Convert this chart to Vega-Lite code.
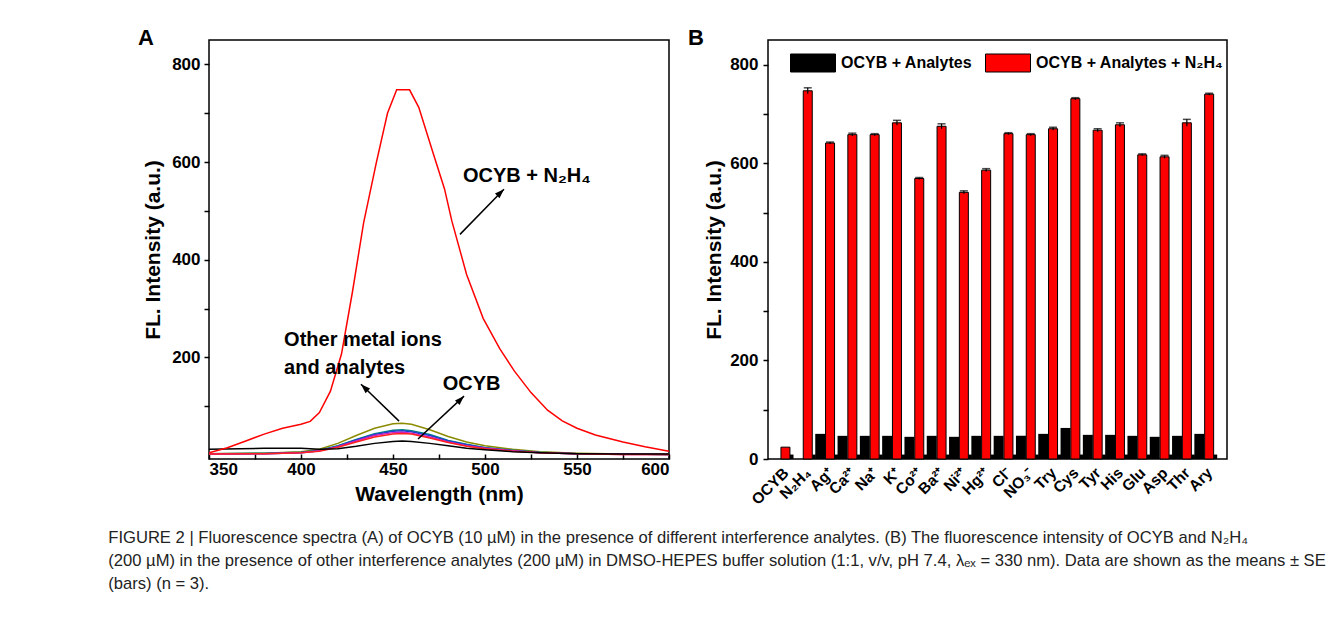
{
  "$schema": "https://vega.github.io/schema/vega-lite/v6.json",
  "background": "white",
  "padding": {"left": 108, "top": 26, "right": 0, "bottom": 0},
  "config": {
    "font": "Liberation Sans",
    "view": {"stroke": "black", "strokeWidth": 1.5},
    "axis": {
      "domain": false, "grid": false,
      "labelFont": "Liberation Sans", "labelFontSize": 17, "labelFontWeight": "bold", "labelColor": "black",
      "titleFont": "Liberation Sans", "titleFontSize": 21, "titleFontWeight": "bold", "titleColor": "black",
      "tickColor": "black", "tickWidth": 1.5, "tickSize": 5
    }
  },
  "title": {
    "text": [
      "FIGURE 2 | Fluorescence spectra (A) of OCYB (10 µM) in the presence of different interference analytes. (B) The fluorescence intensity of OCYB and N₂H₄",
      "(200 µM) in the presence of other interference analytes (200 µM) in DMSO-HEPES buffer solution (1:1, v/v, pH 7.4, λₑₓ = 330 nm). Data are shown as the means ± SE",
      "(bars) (n = 3)."
    ],
    "orient": "bottom", "anchor": "start", "frame": "bounds",
    "font": "Liberation Sans", "fontSize": 16.6, "fontWeight": "normal", "color": "#222222",
    "lineHeight": 23, "offset": 22, "dx": -29
  },
  "resolve": {"scale": {"color": "independent"}, "legend": {"color": "independent"}},
  "datasets": {
    "spectra": [
      {"s": "OCYB + N2H4", "wl": 350, "v": 5}, {"s": "OCYB + N2H4", "wl": 360, "v": 15}, {"s": "OCYB + N2H4", "wl": 370, "v": 29},
      {"s": "OCYB + N2H4", "wl": 380, "v": 43}, {"s": "OCYB + N2H4", "wl": 390, "v": 55}, {"s": "OCYB + N2H4", "wl": 400, "v": 63},
      {"s": "OCYB + N2H4", "wl": 405, "v": 69}, {"s": "OCYB + N2H4", "wl": 410, "v": 87}, {"s": "OCYB + N2H4", "wl": 416, "v": 131},
      {"s": "OCYB + N2H4", "wl": 422, "v": 207}, {"s": "OCYB + N2H4", "wl": 428, "v": 335}, {"s": "OCYB + N2H4", "wl": 434, "v": 475},
      {"s": "OCYB + N2H4", "wl": 441, "v": 600}, {"s": "OCYB + N2H4", "wl": 447, "v": 700}, {"s": "OCYB + N2H4", "wl": 452, "v": 748},
      {"s": "OCYB + N2H4", "wl": 459, "v": 748}, {"s": "OCYB + N2H4", "wl": 464, "v": 712}, {"s": "OCYB + N2H4", "wl": 472, "v": 616},
      {"s": "OCYB + N2H4", "wl": 478, "v": 545}, {"s": "OCYB + N2H4", "wl": 482, "v": 479}, {"s": "OCYB + N2H4", "wl": 490, "v": 370},
      {"s": "OCYB + N2H4", "wl": 499, "v": 280}, {"s": "OCYB + N2H4", "wl": 508, "v": 218}, {"s": "OCYB + N2H4", "wl": 516, "v": 172},
      {"s": "OCYB + N2H4", "wl": 525, "v": 128}, {"s": "OCYB + N2H4", "wl": 534, "v": 92}, {"s": "OCYB + N2H4", "wl": 542, "v": 70},
      {"s": "OCYB + N2H4", "wl": 550, "v": 55}, {"s": "OCYB + N2H4", "wl": 560, "v": 41}, {"s": "OCYB + N2H4", "wl": 575, "v": 27},
      {"s": "OCYB + N2H4", "wl": 587, "v": 17}, {"s": "OCYB + N2H4", "wl": 600, "v": 8},

      {"s": "Olive", "wl": 350, "v": 3}, {"s": "Olive", "wl": 380, "v": 4}, {"s": "Olive", "wl": 400, "v": 7}, {"s": "Olive", "wl": 410, "v": 12},
      {"s": "Olive", "wl": 420, "v": 24}, {"s": "Olive", "wl": 430, "v": 40}, {"s": "Olive", "wl": 440, "v": 55}, {"s": "Olive", "wl": 450, "v": 64},
      {"s": "Olive", "wl": 455, "v": 65}, {"s": "Olive", "wl": 460, "v": 63}, {"s": "Olive", "wl": 470, "v": 52}, {"s": "Olive", "wl": 480, "v": 38},
      {"s": "Olive", "wl": 490, "v": 27}, {"s": "Olive", "wl": 500, "v": 19}, {"s": "Olive", "wl": 515, "v": 12}, {"s": "Olive", "wl": 530, "v": 7},
      {"s": "Olive", "wl": 550, "v": 4}, {"s": "Olive", "wl": 575, "v": 2}, {"s": "Olive", "wl": 600, "v": 1},

      {"s": "Teal", "wl": 350, "v": 3}, {"s": "Teal", "wl": 380, "v": 4}, {"s": "Teal", "wl": 400, "v": 6}, {"s": "Teal", "wl": 410, "v": 10},
      {"s": "Teal", "wl": 420, "v": 19}, {"s": "Teal", "wl": 430, "v": 32}, {"s": "Teal", "wl": 440, "v": 44}, {"s": "Teal", "wl": 450, "v": 51},
      {"s": "Teal", "wl": 455, "v": 52}, {"s": "Teal", "wl": 460, "v": 50}, {"s": "Teal", "wl": 470, "v": 42}, {"s": "Teal", "wl": 480, "v": 30},
      {"s": "Teal", "wl": 490, "v": 22}, {"s": "Teal", "wl": 500, "v": 15}, {"s": "Teal", "wl": 515, "v": 10}, {"s": "Teal", "wl": 530, "v": 6},
      {"s": "Teal", "wl": 550, "v": 3}, {"s": "Teal", "wl": 575, "v": 2}, {"s": "Teal", "wl": 600, "v": 1},

      {"s": "Blue", "wl": 350, "v": 2}, {"s": "Blue", "wl": 380, "v": 3}, {"s": "Blue", "wl": 400, "v": 5}, {"s": "Blue", "wl": 410, "v": 9},
      {"s": "Blue", "wl": 420, "v": 18}, {"s": "Blue", "wl": 430, "v": 31}, {"s": "Blue", "wl": 440, "v": 42}, {"s": "Blue", "wl": 450, "v": 49},
      {"s": "Blue", "wl": 455, "v": 50}, {"s": "Blue", "wl": 460, "v": 48}, {"s": "Blue", "wl": 470, "v": 40}, {"s": "Blue", "wl": 480, "v": 29},
      {"s": "Blue", "wl": 490, "v": 21}, {"s": "Blue", "wl": 500, "v": 15}, {"s": "Blue", "wl": 515, "v": 9}, {"s": "Blue", "wl": 530, "v": 5},
      {"s": "Blue", "wl": 550, "v": 3}, {"s": "Blue", "wl": 575, "v": 2}, {"s": "Blue", "wl": 600, "v": 1},

      {"s": "Magenta", "wl": 350, "v": 2}, {"s": "Magenta", "wl": 380, "v": 3}, {"s": "Magenta", "wl": 400, "v": 5}, {"s": "Magenta", "wl": 410, "v": 9},
      {"s": "Magenta", "wl": 420, "v": 17}, {"s": "Magenta", "wl": 430, "v": 29}, {"s": "Magenta", "wl": 440, "v": 40}, {"s": "Magenta", "wl": 450, "v": 46},
      {"s": "Magenta", "wl": 455, "v": 47}, {"s": "Magenta", "wl": 460, "v": 45}, {"s": "Magenta", "wl": 470, "v": 37}, {"s": "Magenta", "wl": 480, "v": 27},
      {"s": "Magenta", "wl": 490, "v": 19}, {"s": "Magenta", "wl": 500, "v": 14}, {"s": "Magenta", "wl": 515, "v": 9}, {"s": "Magenta", "wl": 530, "v": 5},
      {"s": "Magenta", "wl": 550, "v": 3}, {"s": "Magenta", "wl": 575, "v": 1}, {"s": "Magenta", "wl": 600, "v": 1},

      {"s": "Red", "wl": 350, "v": 2}, {"s": "Red", "wl": 380, "v": 3}, {"s": "Red", "wl": 400, "v": 5}, {"s": "Red", "wl": 410, "v": 8},
      {"s": "Red", "wl": 420, "v": 16}, {"s": "Red", "wl": 430, "v": 27}, {"s": "Red", "wl": 440, "v": 37}, {"s": "Red", "wl": 450, "v": 43},
      {"s": "Red", "wl": 455, "v": 44}, {"s": "Red", "wl": 460, "v": 43}, {"s": "Red", "wl": 470, "v": 35}, {"s": "Red", "wl": 480, "v": 26},
      {"s": "Red", "wl": 490, "v": 18}, {"s": "Red", "wl": 500, "v": 13}, {"s": "Red", "wl": 515, "v": 8}, {"s": "Red", "wl": 530, "v": 5},
      {"s": "Red", "wl": 550, "v": 3}, {"s": "Red", "wl": 575, "v": 1}, {"s": "Red", "wl": 600, "v": 1},

      {"s": "OCYB", "wl": 350, "v": 12}, {"s": "OCYB", "wl": 380, "v": 14}, {"s": "OCYB", "wl": 400, "v": 14}, {"s": "OCYB", "wl": 410, "v": 12},
      {"s": "OCYB", "wl": 420, "v": 13}, {"s": "OCYB", "wl": 430, "v": 18}, {"s": "OCYB", "wl": 440, "v": 24}, {"s": "OCYB", "wl": 450, "v": 28},
      {"s": "OCYB", "wl": 455, "v": 29}, {"s": "OCYB", "wl": 460, "v": 28}, {"s": "OCYB", "wl": 470, "v": 24}, {"s": "OCYB", "wl": 480, "v": 19},
      {"s": "OCYB", "wl": 490, "v": 14}, {"s": "OCYB", "wl": 500, "v": 11}, {"s": "OCYB", "wl": 515, "v": 7}, {"s": "OCYB", "wl": 530, "v": 5},
      {"s": "OCYB", "wl": 550, "v": 3}, {"s": "OCYB", "wl": 575, "v": 2}, {"s": "OCYB", "wl": 600, "v": 2}
    ],
    "arrows": [
      {"n": "a1", "wl": 486.4, "v": 452, "wl2": 510.3, "v2": 544.5},
      {"n": "a2", "wl": 453.3, "v": 69.6, "wl2": 432.6, "v2": 145},
      {"n": "a3", "wl": 463.6, "v": 32.8, "wl2": 488.6, "v2": 120.8}
    ],
    "heads": [
      {"n": "a1", "wl": 510.3, "v": 544.5},
      {"n": "a2", "wl": 432.6, "v": 145},
      {"n": "a3", "wl": 488.6, "v": 120.8}
    ],
    "notes": [
      {"t": "OCYB + N₂H₄", "wl": 488, "v": 571},
      {"t": "Other metal ions", "wl": 390.8, "v": 235},
      {"t": "and analytes", "wl": 390.8, "v": 178},
      {"t": "OCYB", "wl": 477, "v": 145}
    ],
    "bars": [
      {"cat": "OCYB", "series": "OCYB + Analytes", "v": 0},
      {"cat": "N₂H₄", "series": "OCYB + Analytes", "v": 0},
      {"cat": "Ag⁺", "series": "OCYB + Analytes", "v": 51},
      {"cat": "Ca²⁺", "series": "OCYB + Analytes", "v": 47},
      {"cat": "Na⁺", "series": "OCYB + Analytes", "v": 47},
      {"cat": "K⁺", "series": "OCYB + Analytes", "v": 47},
      {"cat": "Co²⁺", "series": "OCYB + Analytes", "v": 45},
      {"cat": "Ba²⁺", "series": "OCYB + Analytes", "v": 47},
      {"cat": "Ni²⁺", "series": "OCYB + Analytes", "v": 45},
      {"cat": "Hg²⁺", "series": "OCYB + Analytes", "v": 47},
      {"cat": "Cl⁻", "series": "OCYB + Analytes", "v": 47},
      {"cat": "NO₃⁻", "series": "OCYB + Analytes", "v": 47},
      {"cat": "Try", "series": "OCYB + Analytes", "v": 51},
      {"cat": "Cys", "series": "OCYB + Analytes", "v": 63},
      {"cat": "Tyr", "series": "OCYB + Analytes", "v": 49},
      {"cat": "His", "series": "OCYB + Analytes", "v": 49},
      {"cat": "Glu", "series": "OCYB + Analytes", "v": 47},
      {"cat": "Asp", "series": "OCYB + Analytes", "v": 45},
      {"cat": "Thr", "series": "OCYB + Analytes", "v": 47},
      {"cat": "Ary", "series": "OCYB + Analytes", "v": 51},
      {"cat": "OCYB", "series": "OCYB + Analytes + N₂H₄", "v": 24},
      {"cat": "N₂H₄", "series": "OCYB + Analytes + N₂H₄", "v": 747, "lo": 741, "hi": 753},
      {"cat": "Ag⁺", "series": "OCYB + Analytes + N₂H₄", "v": 641, "lo": 639, "hi": 643},
      {"cat": "Ca²⁺", "series": "OCYB + Analytes + N₂H₄", "v": 658, "lo": 655, "hi": 661},
      {"cat": "Na⁺", "series": "OCYB + Analytes + N₂H₄", "v": 658, "lo": 656, "hi": 660},
      {"cat": "K⁺", "series": "OCYB + Analytes + N₂H₄", "v": 682, "lo": 677, "hi": 687},
      {"cat": "Co²⁺", "series": "OCYB + Analytes + N₂H₄", "v": 569, "lo": 567, "hi": 571},
      {"cat": "Ba²⁺", "series": "OCYB + Analytes + N₂H₄", "v": 675, "lo": 670, "hi": 680},
      {"cat": "Ni²⁺", "series": "OCYB + Analytes + N₂H₄", "v": 541, "lo": 538, "hi": 544},
      {"cat": "Hg²⁺", "series": "OCYB + Analytes + N₂H₄", "v": 586, "lo": 583, "hi": 589},
      {"cat": "Cl⁻", "series": "OCYB + Analytes + N₂H₄", "v": 660, "lo": 658, "hi": 662},
      {"cat": "NO₃⁻", "series": "OCYB + Analytes + N₂H₄", "v": 658, "lo": 656, "hi": 660},
      {"cat": "Try", "series": "OCYB + Analytes + N₂H₄", "v": 670, "lo": 667, "hi": 673},
      {"cat": "Cys", "series": "OCYB + Analytes + N₂H₄", "v": 731, "lo": 729, "hi": 733},
      {"cat": "Tyr", "series": "OCYB + Analytes + N₂H₄", "v": 667, "lo": 664, "hi": 670},
      {"cat": "His", "series": "OCYB + Analytes + N₂H₄", "v": 678, "lo": 674, "hi": 682},
      {"cat": "Glu", "series": "OCYB + Analytes + N₂H₄", "v": 617, "lo": 615, "hi": 619},
      {"cat": "Asp", "series": "OCYB + Analytes + N₂H₄", "v": 613, "lo": 610, "hi": 616},
      {"cat": "Thr", "series": "OCYB + Analytes + N₂H₄", "v": 682, "lo": 675, "hi": 689},
      {"cat": "Ary", "series": "OCYB + Analytes + N₂H₄", "v": 740, "lo": 738, "hi": 742}
    ],
    "base": [
      {"cat": "OCYB", "v": 9}, {"cat": "N₂H₄", "v": 9}, {"cat": "Ag⁺", "v": 9}, {"cat": "Ca²⁺", "v": 9},
      {"cat": "Na⁺", "v": 9}, {"cat": "K⁺", "v": 9}, {"cat": "Co²⁺", "v": 9}, {"cat": "Ba²⁺", "v": 9},
      {"cat": "Ni²⁺", "v": 9}, {"cat": "Hg²⁺", "v": 9}, {"cat": "Cl⁻", "v": 9}, {"cat": "NO₃⁻", "v": 9},
      {"cat": "Try", "v": 9}, {"cat": "Cys", "v": 9}, {"cat": "Tyr", "v": 9}, {"cat": "His", "v": 9},
      {"cat": "Glu", "v": 9}, {"cat": "Asp", "v": 9}, {"cat": "Thr", "v": 9}, {"cat": "Ary", "v": 9}
    ]
  },
  "spacing": 16,
  "hconcat": [
    {
      "width": 460,
      "height": 419,
      "title": {"text": "A", "anchor": "start", "frame": "group", "font": "Liberation Sans", "fontSize": 22, "fontWeight": "bold", "color": "black", "offset": -10, "dx": -71},
      "layer": [
        {
          "data": {"name": "spectra"},
          "transform": [{"filter": "datum.s !== 'OCYB + N2H4'"}],
          "mark": {"type": "line", "strokeWidth": 1.5, "clip": true},
          "encoding": {
            "x": {"field": "wl", "type": "quantitative", "scale": {"domain": [350, 600], "nice": false, "zero": false},
              "axis": {"title": "Wavelength (nm)", "values": [350, 375, 400, 425, 450, 475, 500, 525, 550, 575, 600],
                "labelExpr": "datum.value % 50 === 0 ? datum.label : ''", "tickSize": -5, "labelPadding": 7, "titlePadding": 6}},
            "y": {"field": "v", "type": "quantitative", "scale": {"domain": [-8, 850], "nice": false, "zero": false},
              "axis": {"title": "FL. Intensity  (a.u.)", "values": [100, 200, 300, 400, 500, 600, 700, 800],
                "labelExpr": "datum.value % 200 === 0 ? datum.label : ''", "labelPadding": 4, "titlePadding": 8}},
            "color": {"field": "s", "type": "nominal", "legend": null,
              "scale": {"domain": ["Olive", "Teal", "Blue", "Magenta", "Red", "OCYB"],
                "range": ["#8b8b00", "#008080", "#2040d0", "#d020c0", "#ff2020", "#000000"]}}
          }
        },
        {
          "data": {"name": "spectra"},
          "transform": [{"filter": "datum.s === 'OCYB + N2H4'"}],
          "mark": {"type": "line", "strokeWidth": 1.5, "color": "#ff0000", "clip": true},
          "encoding": {
            "x": {"field": "wl", "type": "quantitative"},
            "y": {"field": "v", "type": "quantitative"}
          }
        },
        {
          "data": {"name": "arrows"},
          "mark": {"type": "rule", "color": "black", "strokeWidth": 1.5},
          "encoding": {
            "x": {"field": "wl", "type": "quantitative"},
            "x2": {"field": "wl2"},
            "y": {"field": "v", "type": "quantitative"},
            "y2": {"field": "v2"}
          }
        },
        {
          "data": {"name": "heads"},
          "transform": [{"filter": "datum.n !== 'a2'"}],
          "mark": {"type": "point", "shape": "M0,0L0.65,1.9L-0.65,1.9Z", "size": 100, "filled": true, "color": "black", "opacity": 1, "angle": 45},
          "encoding": {
            "x": {"field": "wl", "type": "quantitative"},
            "y": {"field": "v", "type": "quantitative"}
          }
        },
        {
          "data": {"name": "heads"},
          "transform": [{"filter": "datum.n === 'a2'"}],
          "mark": {"type": "point", "shape": "M0,0L0.65,1.9L-0.65,1.9Z", "size": 100, "filled": true, "color": "black", "opacity": 1, "angle": 314},
          "encoding": {
            "x": {"field": "wl", "type": "quantitative"},
            "y": {"field": "v", "type": "quantitative"}
          }
        },
        {
          "data": {"name": "notes"},
          "mark": {"type": "text", "align": "left", "baseline": "middle", "font": "Liberation Sans", "fontSize": 20, "fontWeight": "bold", "color": "black"},
          "encoding": {
            "x": {"field": "wl", "type": "quantitative"},
            "y": {"field": "v", "type": "quantitative"},
            "text": {"field": "t"}
          }
        }
      ]
    },
    {
      "width": 459,
      "height": 419,
      "title": {"text": "B", "anchor": "start", "frame": "group", "font": "Liberation Sans", "fontSize": 22, "fontWeight": "bold", "color": "black", "offset": -10, "dx": -80},
      "data": {"name": "bars"},
      "layer": [
        {
          "transform": [{"filter": "datum.series === 'OCYB + Analytes'"}],
          "mark": {"type": "bar", "width": 10, "xOffset": -5.5},
          "encoding": {
            "x": {"field": "cat", "type": "nominal", "sort": null,
              "scale": {"range": [2, 448], "paddingInner": 0, "paddingOuter": 0},
              "axis": {"title": null, "labelAngle": -45, "labelFontSize": 15.5, "ticks": false, "labelPadding": 6}},
            "y": {"field": "v", "type": "quantitative", "scale": {"domain": [0, 850], "nice": false},
              "axis": {"title": "FL. Intensity  (a.u.)", "values": [0, 100, 200, 300, 400, 500, 600, 700, 800],
                "labelExpr": "datum.value % 200 === 0 ? datum.label : ''", "labelPadding": 5, "titlePadding": 5}},
            "color": {"field": "series", "type": "nominal",
              "scale": {"domain": ["OCYB + Analytes", "OCYB + Analytes + N₂H₄"], "range": ["#000000", "#ff0000"]},
              "legend": {"orient": "none", "legendX": 22, "legendY": 0, "direction": "horizontal", "title": null,
                "symbolType": "M-1,-0.4H1V0.4H-1Z", "symbolSize": 2025, "symbolStrokeColor": "black", "symbolStrokeWidth": 1,
                "symbolOpacity": 1, "labelFont": "Liberation Sans", "labelFontSize": 16, "labelFontWeight": "bold", "labelColor": "black",
                "labelOffset": 5, "labelLimit": 0, "columnPadding": 10, "padding": 0}}
          }
        },
        {
          "transform": [{"filter": "datum.series !== 'OCYB + Analytes'"}],
          "mark": {"type": "bar", "width": 9, "xOffset": 4.3, "stroke": "black", "strokeWidth": 1},
          "encoding": {
            "x": {"field": "cat", "type": "nominal", "sort": null},
            "y": {"field": "v", "type": "quantitative"},
            "color": {"field": "series", "type": "nominal"}
          }
        },
        {
          "data": {"name": "base"},
          "mark": {"type": "bar", "width": 3.5, "xOffset": 10.6, "color": "black"},
          "encoding": {
            "x": {"field": "cat", "type": "nominal", "sort": null},
            "y": {"field": "v", "type": "quantitative"}
          }
        },
        {
          "transform": [{"filter": "isValid(datum.lo)"}],
          "mark": {"type": "rule", "color": "black", "strokeWidth": 1.2, "xOffset": 4.3},
          "encoding": {
            "x": {"field": "cat", "type": "nominal", "sort": null},
            "y": {"field": "lo", "type": "quantitative"},
            "y2": {"field": "hi"}
          }
        },
        {
          "transform": [{"filter": "isValid(datum.hi)"}],
          "mark": {"type": "tick", "color": "black", "thickness": 1.5, "size": 8, "xOffset": 4.3, "orient": "horizontal"},
          "encoding": {
            "x": {"field": "cat", "type": "nominal", "sort": null},
            "y": {"field": "hi", "type": "quantitative"}
          }
        }
      ]
    }
  ]
}
